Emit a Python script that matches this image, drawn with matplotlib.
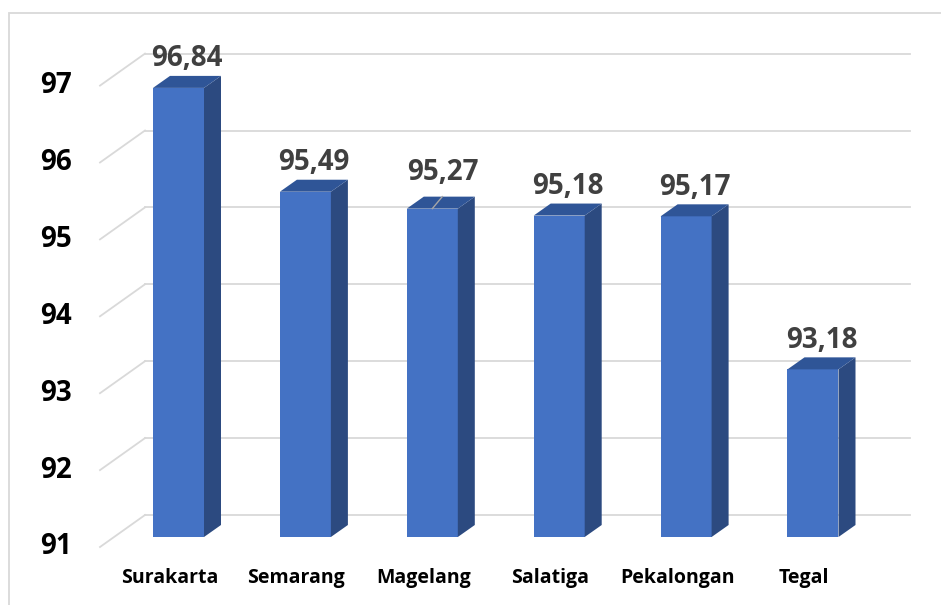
import matplotlib
matplotlib.use("Agg")
import matplotlib.pyplot as plt
from matplotlib.patches import Polygon, Rectangle

categories = ["Surakarta", "Semarang", "Magelang", "Salatiga", "Pekalongan", "Tegal"]
values = [96.84, 95.49, 95.27, 95.18, 95.17, 93.18]
labels = ["96,84", "95,49", "95,27", "95,18", "95,17", "93,18"]
yticks = [91, 92, 93, 94, 95, 96, 97]

W, H = 941, 605
fig = plt.figure(figsize=(W / 100, H / 100), dpi=100)
ax = fig.add_axes([0, 0, 1, 1])

# layout (pixel-based scales)
px_x0, px_step = 178.5, 126.9      # x pixel of category 0, spacing
px_base, px_unit = 537.0, 76.9     # y pixel of value 91 at bar plane, px per unit
base = 91
ax.set_xlim(-px_x0 / px_step, (W - px_x0) / px_step)
ax.set_ylim(base - (H - px_base) / px_unit, base + px_base / px_unit)
ax.axis("off")

ux = 1 / px_step
uy = 1 / px_unit
bar_w = 51 * ux
ddx, ddy = 17 * ux, 12 * uy          # bar depth offset
bkx, bky = 31 * ux, 22 * uy          # bar plane -> back wall
frx, fry = -14 * ux, -10 * uy        # bar plane -> front plane
wall_left_back = (145 - px_x0) * ux
wall_right = (910 - px_x0) * ux

grid_c = "#D9D9D9"
for v in yticks:
    yb = v + bky
    ax.plot([wall_left_back, wall_right], [yb, yb], color=grid_c, lw=1.3, zorder=1)
    ax.plot([wall_left_back - (bkx - frx), wall_left_back], [v + fry, yb],
            color=grid_c, lw=1.3, zorder=1)
    ax.text((72 - px_x0) * ux, v + fry, str(v), ha="right", va="center",
            fontsize=20, fontweight="bold", family="Open Sans", color="black")

front_c, side_c, top_c = "#4472C4", "#2C4A80", "#2F5597"
xs = list(range(len(categories)))
ax.bar(xs, [v - base for v in values], bottom=base, width=bar_w,
       color=front_c, zorder=3, linewidth=0)
for i, v in zip(xs, values):
    r = i + bar_w / 2
    l = i - bar_w / 2
    ax.add_patch(Polygon([(r, base), (r + ddx, base + ddy), (r + ddx, v + ddy), (r, v)],
                         closed=True, facecolor=side_c, edgecolor="none", zorder=3))
    ax.add_patch(Polygon([(l, v), (r, v), (r + ddx, v + ddy), (l + ddx, v + ddy)],
                         closed=True, facecolor=top_c, edgecolor="none", zorder=3))

for i, (v, lab, cat) in enumerate(zip(values, labels, categories)):
    extra = 7 * uy if cat == "Magelang" else 0
    ax.text(i + ddx / 2 + (2 * ux if extra else 0), v + ddy + 17 * uy + extra, lab,
            ha="center", va="center", fontsize=20, fontweight="bold",
            family="Open Sans", color="#404040", zorder=5)
    if extra:
        ax.plot([i, i + 10 * ux], [v, v + ddy], color="#A6A6A6", lw=1, zorder=4)
    ax.text(i - 9 * ux, base - 41 * uy, cat, ha="center", va="center",
            fontsize=14, fontweight="bold", family="Open Sans", color="black")

fig.patches.append(Rectangle((9 / W, -0.1), 1.1, 1 - 13 / H + 0.1, transform=fig.transFigure,
                             fill=False, edgecolor=grid_c, lw=1.3))

fig.savefig("out.png", dpi=100)
